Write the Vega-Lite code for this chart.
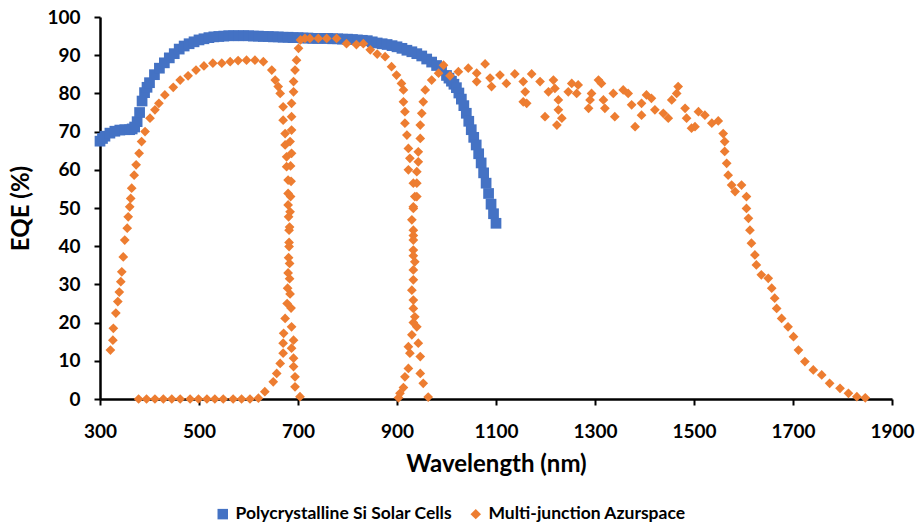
{
  "$schema": "https://vega.github.io/schema/vega-lite/v6.json",
  "autosize": "none",
  "width": 792,
  "height": 382,
  "padding": {"left": 100, "top": 17, "right": 26, "bottom": 125},
  "background": "white",
  "config": {
    "font": "Lato",
    "view": {"stroke": null},
    "axis": {"grid": false, "domainColor": "#000", "domainWidth": 2.5, "tickColor": "#000", "tickWidth": 2, "tickSize": 6, "labelColor": "#000", "labelFont": "Lato", "labelFontWeight": "bold", "labelFontSize": 19, "labelFlush": false, "titleFont": "Lato", "titleFontWeight": "bold", "titleColor": "#000", "titleFontSize": 24}
  },
  "data": {"values": [
    {"s":"P","wl":300,"eqe":67.5},{"s":"P","wl":305,"eqe":68.2},{"s":"P","wl":310,"eqe":68.8},{"s":"P","wl":320,"eqe":69.6},{"s":"P","wl":330,"eqe":70.1},{"s":"P","wl":340,"eqe":70.4},{"s":"P","wl":350,"eqe":70.5},{"s":"P","wl":360,"eqe":70.5},{"s":"P","wl":365,"eqe":70.7},{"s":"P","wl":370,"eqe":71.2},{"s":"P","wl":375,"eqe":72.6},{"s":"P","wl":380,"eqe":75.0},{"s":"P","wl":385,"eqe":78.0},{"s":"P","wl":390,"eqe":80.2},{"s":"P","wl":395,"eqe":81.6},{"s":"P","wl":400,"eqe":82.8},{"s":"P","wl":410,"eqe":84.9},{"s":"P","wl":420,"eqe":86.6},{"s":"P","wl":430,"eqe":88.0},{"s":"P","wl":440,"eqe":89.3},{"s":"P","wl":450,"eqe":90.4},{"s":"P","wl":460,"eqe":91.6},{"s":"P","wl":470,"eqe":92.4},{"s":"P","wl":480,"eqe":93.0},{"s":"P","wl":490,"eqe":93.5},{"s":"P","wl":500,"eqe":94.0},{"s":"P","wl":510,"eqe":94.3},{"s":"P","wl":520,"eqe":94.6},{"s":"P","wl":530,"eqe":94.8},{"s":"P","wl":540,"eqe":94.9},{"s":"P","wl":550,"eqe":95.0},{"s":"P","wl":560,"eqe":95.1},{"s":"P","wl":570,"eqe":95.1},{"s":"P","wl":580,"eqe":95.1},{"s":"P","wl":590,"eqe":95.1},{"s":"P","wl":600,"eqe":95.1},{"s":"P","wl":610,"eqe":95.0},{"s":"P","wl":620,"eqe":95.0},{"s":"P","wl":630,"eqe":94.9},{"s":"P","wl":640,"eqe":94.9},{"s":"P","wl":650,"eqe":94.8},{"s":"P","wl":660,"eqe":94.8},{"s":"P","wl":670,"eqe":94.7},{"s":"P","wl":680,"eqe":94.7},{"s":"P","wl":690,"eqe":94.6},{"s":"P","wl":700,"eqe":94.6},{"s":"P","wl":710,"eqe":94.5},{"s":"P","wl":720,"eqe":94.5},{"s":"P","wl":730,"eqe":94.4},{"s":"P","wl":740,"eqe":94.4},{"s":"P","wl":750,"eqe":94.4},{"s":"P","wl":760,"eqe":94.4},{"s":"P","wl":770,"eqe":94.3},{"s":"P","wl":780,"eqe":94.3},{"s":"P","wl":790,"eqe":94.2},{"s":"P","wl":800,"eqe":94.2},{"s":"P","wl":810,"eqe":94.1},{"s":"P","wl":820,"eqe":94.0},{"s":"P","wl":830,"eqe":93.9},{"s":"P","wl":840,"eqe":93.8},{"s":"P","wl":850,"eqe":93.5},{"s":"P","wl":860,"eqe":93.2},{"s":"P","wl":870,"eqe":93.0},{"s":"P","wl":880,"eqe":92.8},{"s":"P","wl":890,"eqe":92.5},{"s":"P","wl":900,"eqe":92.2},{"s":"P","wl":910,"eqe":91.8},{"s":"P","wl":920,"eqe":91.3},{"s":"P","wl":930,"eqe":90.9},{"s":"P","wl":940,"eqe":90.4},{"s":"P","wl":950,"eqe":89.8},{"s":"P","wl":960,"eqe":89.0},{"s":"P","wl":970,"eqe":88.2},{"s":"P","wl":980,"eqe":87.3},{"s":"P","wl":990,"eqe":86.1},{"s":"P","wl":1000,"eqe":84.7},{"s":"P","wl":1005,"eqe":84.0},{"s":"P","wl":1010,"eqe":83.2},{"s":"P","wl":1015,"eqe":82.4},{"s":"P","wl":1020,"eqe":81.5},{"s":"P","wl":1025,"eqe":80.1},{"s":"P","wl":1030,"eqe":78.5},{"s":"P","wl":1035,"eqe":76.8},{"s":"P","wl":1040,"eqe":74.8},{"s":"P","wl":1045,"eqe":72.7},{"s":"P","wl":1050,"eqe":70.5},{"s":"P","wl":1055,"eqe":68.5},{"s":"P","wl":1060,"eqe":66.5},{"s":"P","wl":1065,"eqe":64.2},{"s":"P","wl":1070,"eqe":61.8},{"s":"P","wl":1075,"eqe":59.2},{"s":"P","wl":1080,"eqe":56.5},{"s":"P","wl":1085,"eqe":53.8},{"s":"P","wl":1090,"eqe":51.0},{"s":"P","wl":1095,"eqe":48.5},{"s":"P","wl":1100,"eqe":46.0},

    {"s":"M","wl":321,"eqe":12.8},{"s":"M","wl":326,"eqe":15.4},{"s":"M","wl":327,"eqe":18.5},{"s":"M","wl":332,"eqe":22.5},{"s":"M","wl":336,"eqe":25.5},{"s":"M","wl":339,"eqe":28},{"s":"M","wl":342,"eqe":30.7},{"s":"M","wl":344,"eqe":33.3},{"s":"M","wl":347,"eqe":37.2},{"s":"M","wl":350,"eqe":41.6},{"s":"M","wl":355,"eqe":44.7},{"s":"M","wl":357,"eqe":47.7},{"s":"M","wl":360,"eqe":50.3},{"s":"M","wl":362,"eqe":52.5},{"s":"M","wl":364,"eqe":55.2},{"s":"M","wl":369,"eqe":58.6},{"s":"M","wl":373,"eqe":61.3},{"s":"M","wl":379,"eqe":64.3},{"s":"M","wl":384,"eqe":67.4},{"s":"M","wl":391,"eqe":70},{"s":"M","wl":401,"eqe":73.5},{"s":"M","wl":411,"eqe":75.7},{"s":"M","wl":419,"eqe":77.4},{"s":"M","wl":431,"eqe":79.6},{"s":"M","wl":448,"eqe":81.6},{"s":"M","wl":462,"eqe":83.5},{"s":"M","wl":478,"eqe":84.6},{"s":"M","wl":494,"eqe":86.1},{"s":"M","wl":510,"eqe":87.2},{"s":"M","wl":528,"eqe":87.9},{"s":"M","wl":546,"eqe":87.9},{"s":"M","wl":563,"eqe":88.3},{"s":"M","wl":579,"eqe":88.6},{"s":"M","wl":596,"eqe":88.7},{"s":"M","wl":613,"eqe":88.7},{"s":"M","wl":630,"eqe":88.3},{"s":"M","wl":647,"eqe":86.1},{"s":"M","wl":654,"eqe":83.5},{"s":"M","wl":660,"eqe":81.8},{"s":"M","wl":664,"eqe":80},{"s":"M","wl":670,"eqe":76.5},{"s":"M","wl":670,"eqe":73},{"s":"M","wl":674,"eqe":69.5},{"s":"M","wl":674,"eqe":66.5},{"s":"M","wl":677,"eqe":63.4},{"s":"M","wl":677,"eqe":60.8},{"s":"M","wl":680,"eqe":57.3},{"s":"M","wl":680,"eqe":53.8},{"s":"M","wl":680,"eqe":50.8},{"s":"M","wl":681,"eqe":47.7},{"s":"M","wl":682,"eqe":44.2},{"s":"M","wl":682,"eqe":39.9},{"s":"M","wl":683,"eqe":35.5},{"s":"M","wl":683,"eqe":31.5},{"s":"M","wl":684,"eqe":27.5},{"s":"M","wl":686,"eqe":23.8},{"s":"M","wl":687,"eqe":18.9},{"s":"M","wl":691,"eqe":15.4},{"s":"M","wl":687,"eqe":13.3},{"s":"M","wl":691,"eqe":10.7},{"s":"M","wl":691,"eqe":8.5},{"s":"M","wl":694,"eqe":5.8},{"s":"M","wl":694,"eqe":3.2},{"s":"M","wl":704,"eqe":0.6},

    {"s":"M","wl":378,"eqe":0},{"s":"M","wl":394,"eqe":0},{"s":"M","wl":411,"eqe":0},{"s":"M","wl":428,"eqe":0},{"s":"M","wl":445,"eqe":0},{"s":"M","wl":462,"eqe":0},{"s":"M","wl":482,"eqe":0},{"s":"M","wl":499,"eqe":0},{"s":"M","wl":516,"eqe":0},{"s":"M","wl":532,"eqe":0},{"s":"M","wl":549,"eqe":0},{"s":"M","wl":569,"eqe":0},{"s":"M","wl":586,"eqe":0},{"s":"M","wl":603,"eqe":0},{"s":"M","wl":620,"eqe":0.2},{"s":"M","wl":633,"eqe":1.9},{"s":"M","wl":650,"eqe":4.5},{"s":"M","wl":657,"eqe":6.7},{"s":"M","wl":664,"eqe":9.3},{"s":"M","wl":670,"eqe":12},{"s":"M","wl":670,"eqe":14.6},{"s":"M","wl":671,"eqe":17.2},{"s":"M","wl":674,"eqe":21.1},{"s":"M","wl":678,"eqe":25},{"s":"M","wl":679,"eqe":29},{"s":"M","wl":680,"eqe":33},{"s":"M","wl":681,"eqe":37},{"s":"M","wl":682,"eqe":41},{"s":"M","wl":683,"eqe":45},{"s":"M","wl":684,"eqe":49},{"s":"M","wl":685,"eqe":53},{"s":"M","wl":686,"eqe":57},{"s":"M","wl":685,"eqe":61},{"s":"M","wl":687,"eqe":64.3},{"s":"M","wl":684,"eqe":67.4},{"s":"M","wl":687,"eqe":70.4},{"s":"M","wl":687,"eqe":73.9},{"s":"M","wl":687,"eqe":77.4},{"s":"M","wl":691,"eqe":80.4},{"s":"M","wl":691,"eqe":83.1},{"s":"M","wl":694,"eqe":86.1},{"s":"M","wl":697,"eqe":88.7},{"s":"M","wl":701,"eqe":91.8},{"s":"M","wl":705,"eqe":94},{"s":"M","wl":714,"eqe":94.4},{"s":"M","wl":724,"eqe":94.4},{"s":"M","wl":741,"eqe":94.4},{"s":"M","wl":758,"eqe":94.4},{"s":"M","wl":778,"eqe":94.4},{"s":"M","wl":798,"eqe":93},{"s":"M","wl":818,"eqe":92.8},{"s":"M","wl":832,"eqe":93},{"s":"M","wl":846,"eqe":91.4},{"s":"M","wl":860,"eqe":90.3},{"s":"M","wl":876,"eqe":89.6},{"s":"M","wl":889,"eqe":87},{"s":"M","wl":899,"eqe":84.8},{"s":"M","wl":909,"eqe":82.6},{"s":"M","wl":913,"eqe":80.9},{"s":"M","wl":913,"eqe":77.8},{"s":"M","wl":916,"eqe":75.2},{"s":"M","wl":916,"eqe":72.2},{"s":"M","wl":920,"eqe":69.1},{"s":"M","wl":923,"eqe":65.6},{"s":"M","wl":926,"eqe":63},{"s":"M","wl":923,"eqe":60},{"s":"M","wl":933,"eqe":56.5},{"s":"M","wl":936,"eqe":53},{"s":"M","wl":933,"eqe":49.9},{"s":"M","wl":930,"eqe":46.9},{"s":"M","wl":933,"eqe":42.8},{"s":"M","wl":933,"eqe":39},{"s":"M","wl":936,"eqe":35.9},{"s":"M","wl":933,"eqe":31.2},{"s":"M","wl":933,"eqe":25.9},{"s":"M","wl":936,"eqe":21.5},{"s":"M","wl":940,"eqe":18.9},{"s":"M","wl":943,"eqe":14.6},{"s":"M","wl":947,"eqe":11.1},{"s":"M","wl":947,"eqe":6.7},{"s":"M","wl":953,"eqe":4.1},{"s":"M","wl":963,"eqe":0.5},

    {"s":"M","wl":903,"eqe":0.3},{"s":"M","wl":906,"eqe":1.5},{"s":"M","wl":913,"eqe":3},{"s":"M","wl":916,"eqe":5.8},{"s":"M","wl":923,"eqe":8},{"s":"M","wl":926,"eqe":12},{"s":"M","wl":923,"eqe":13.7},{"s":"M","wl":930,"eqe":16.8},{"s":"M","wl":933,"eqe":20},{"s":"M","wl":933,"eqe":23.7},{"s":"M","wl":930,"eqe":28.5},{"s":"M","wl":933,"eqe":33.8},{"s":"M","wl":933,"eqe":37.5},{"s":"M","wl":933,"eqe":41.6},{"s":"M","wl":933,"eqe":44.2},{"s":"M","wl":933,"eqe":50.3},{"s":"M","wl":940,"eqe":53},{"s":"M","wl":940,"eqe":56.5},{"s":"M","wl":940,"eqe":59.5},{"s":"M","wl":943,"eqe":62.1},{"s":"M","wl":943,"eqe":64.7},{"s":"M","wl":947,"eqe":68.2},{"s":"M","wl":947,"eqe":71.7},{"s":"M","wl":950,"eqe":74.8},{"s":"M","wl":953,"eqe":77.8},{"s":"M","wl":957,"eqe":80.9},{"s":"M","wl":970,"eqe":83.5},{"s":"M","wl":984,"eqe":85.3},{"s":"M","wl":994,"eqe":87.4},{"s":"M","wl":1007,"eqe":84.6},{"s":"M","wl":1024,"eqe":85.7},{"s":"M","wl":1044,"eqe":86.6},{"s":"M","wl":1061,"eqe":85.3},{"s":"M","wl":1061,"eqe":83.1},{"s":"M","wl":1078,"eqe":87.7},{"s":"M","wl":1088,"eqe":84},{"s":"M","wl":1091,"eqe":81.8},{"s":"M","wl":1108,"eqe":84.8},{"s":"M","wl":1121,"eqe":82.6},{"s":"M","wl":1138,"eqe":85.1},{"s":"M","wl":1155,"eqe":83.1},{"s":"M","wl":1172,"eqe":85.1},{"s":"M","wl":1159,"eqe":80.4},{"s":"M","wl":1155,"eqe":77.8},{"s":"M","wl":1162,"eqe":77.4},{"s":"M","wl":1189,"eqe":83.1},{"s":"M","wl":1206,"eqe":80.4},{"s":"M","wl":1216,"eqe":83.5},{"s":"M","wl":1219,"eqe":81.3},{"s":"M","wl":1199,"eqe":73.9},{"s":"M","wl":1226,"eqe":78.3},{"s":"M","wl":1226,"eqe":75.7},{"s":"M","wl":1233,"eqe":73.5},{"s":"M","wl":1223,"eqe":71.7},{"s":"M","wl":1246,"eqe":80.4},{"s":"M","wl":1253,"eqe":82.6},{"s":"M","wl":1263,"eqe":80},{"s":"M","wl":1266,"eqe":82.2},{"s":"M","wl":1307,"eqe":83.5},{"s":"M","wl":1313,"eqe":82.6},{"s":"M","wl":1293,"eqe":80},{"s":"M","wl":1290,"eqe":78.3},{"s":"M","wl":1287,"eqe":76.1},{"s":"M","wl":1317,"eqe":78.3},{"s":"M","wl":1320,"eqe":76.1},{"s":"M","wl":1337,"eqe":80},{"s":"M","wl":1340,"eqe":73.9},{"s":"M","wl":1357,"eqe":80.9},{"s":"M","wl":1367,"eqe":80},{"s":"M","wl":1374,"eqe":77},{"s":"M","wl":1381,"eqe":71.3},{"s":"M","wl":1394,"eqe":74.3},{"s":"M","wl":1394,"eqe":77.4},{"s":"M","wl":1404,"eqe":79.6},{"s":"M","wl":1414,"eqe":78.7},{"s":"M","wl":1421,"eqe":75.7},{"s":"M","wl":1438,"eqe":74.8},{"s":"M","wl":1448,"eqe":73.5},{"s":"M","wl":1455,"eqe":78.3},{"s":"M","wl":1465,"eqe":80},{"s":"M","wl":1468,"eqe":81.8},{"s":"M","wl":1482,"eqe":76.1},{"s":"M","wl":1485,"eqe":73.5},{"s":"M","wl":1495,"eqe":70.9},{"s":"M","wl":1502,"eqe":71.3},{"s":"M","wl":1509,"eqe":75.2},{"s":"M","wl":1522,"eqe":74.3},{"s":"M","wl":1536,"eqe":72.2},{"s":"M","wl":1549,"eqe":72.8},{"s":"M","wl":1559,"eqe":69.5},{"s":"M","wl":1562,"eqe":67.4},{"s":"M","wl":1562,"eqe":64.8},{"s":"M","wl":1566,"eqe":61.7},{"s":"M","wl":1569,"eqe":58.6},{"s":"M","wl":1576,"eqe":56},{"s":"M","wl":1583,"eqe":54.3},{"s":"M","wl":1596,"eqe":56},{"s":"M","wl":1606,"eqe":53},{"s":"M","wl":1606,"eqe":49.9},{"s":"M","wl":1610,"eqe":47.3},{"s":"M","wl":1613,"eqe":44.2},{"s":"M","wl":1616,"eqe":40.8},{"s":"M","wl":1623,"eqe":37.7},{"s":"M","wl":1626,"eqe":35.1},{"s":"M","wl":1636,"eqe":32.5},{"s":"M","wl":1650,"eqe":31.6},{"s":"M","wl":1657,"eqe":29},{"s":"M","wl":1663,"eqe":26.4},{"s":"M","wl":1667,"eqe":23.7},{"s":"M","wl":1677,"eqe":21.1},{"s":"M","wl":1690,"eqe":18.9},{"s":"M","wl":1701,"eqe":16.3},{"s":"M","wl":1711,"eqe":12.8},{"s":"M","wl":1724,"eqe":9.8},{"s":"M","wl":1741,"eqe":7.6},{"s":"M","wl":1758,"eqe":6.3},{"s":"M","wl":1774,"eqe":4.1},{"s":"M","wl":1795,"eqe":2.8},{"s":"M","wl":1812,"eqe":1.5},{"s":"M","wl":1829,"eqe":0.6},{"s":"M","wl":1846,"eqe":0.3}
  ]},
  "transform": [{"calculate": "datum.s === 'P' ? 'Polycrystalline Si Solar Cells' : 'Multi-junction Azurspace'", "as": "series"}],
  "mark": {"type": "point", "filled": true, "opacity": 1, "clip": false},
  "encoding": {
    "x": {"field": "wl", "type": "quantitative", "scale": {"domain": [300, 1900], "nice": false, "zero": false, "padding": 0}, "axis": {"values": [300,500,700,900,1100,1300,1500,1700,1900], "format": "d", "title": "Wavelength (nm)", "labelPadding": 17, "titlePadding": 11}},
    "y": {"field": "eqe", "type": "quantitative", "scale": {"domain": [0, 100], "nice": false, "padding": 0}, "axis": {"values": [0,10,20,30,40,50,60,70,80,90,100], "format": "d", "title": "EQE (%)", "labelPadding": 14, "titlePadding": 13}},
    "color": {"field": "series", "type": "nominal", "scale": {"domain": ["Polycrystalline Si Solar Cells", "Multi-junction Azurspace"], "range": ["#4472C4", "#ED7D31"]}, "legend": {"title": null, "orient": "none", "legendX": 114, "legendY": 488, "direction": "horizontal", "labelFontSize": 17.5, "labelFontWeight": "bold", "labelColor": "#000", "labelFont": "Lato", "labelLimit": 0, "symbolSize": 110, "columnPadding": 14, "labelOffset": 4}},
    "shape": {"field": "series", "type": "nominal", "scale": {"domain": ["Polycrystalline Si Solar Cells", "Multi-junction Azurspace"], "range": ["square", "diamond"]}},
    "size": {"condition": {"test": "datum.s === 'P'", "value": 115}, "value": 95},
    "order": {"field": "s", "sort": "descending"}
  }
}
